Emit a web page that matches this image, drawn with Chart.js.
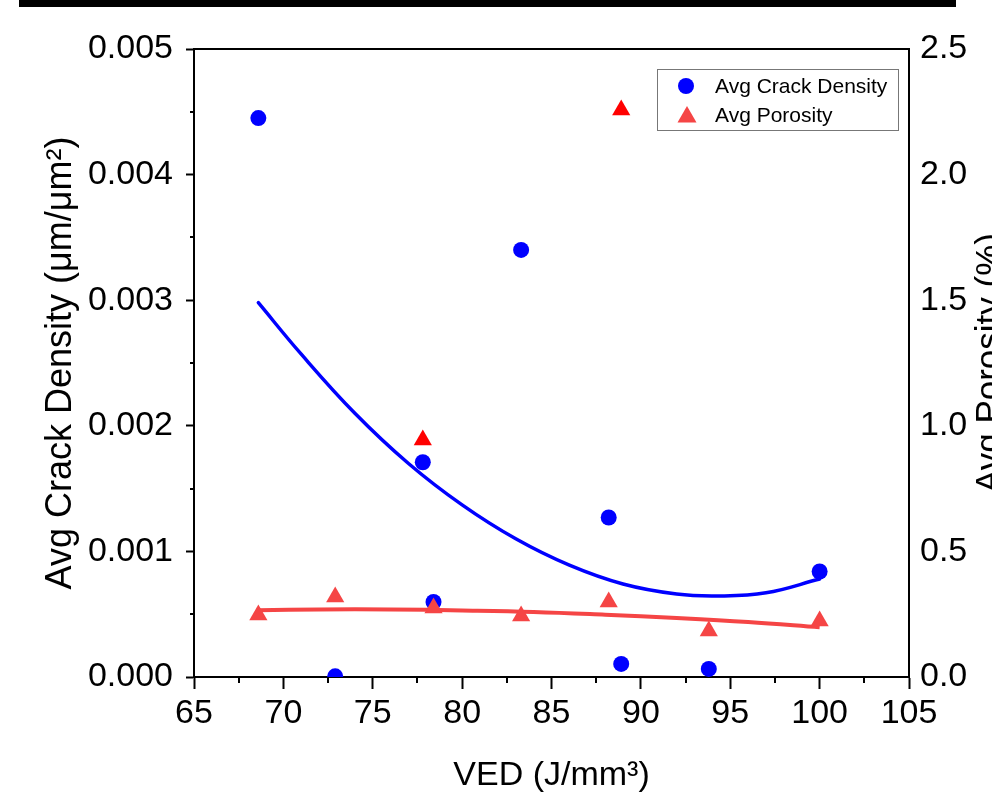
<!DOCTYPE html>
<html>
<head>
<meta charset="utf-8">
<title>Crack density and porosity vs VED</title>
<script src="https://cdn.jsdelivr.net/npm/chart.js@4.4.1/dist/chart.umd.min.js"></script>
<style>
  html, body { margin: 0; padding: 0; background: #fff; }
  #wrap { position: relative; width: 992px; height: 796px; }
</style>
</head>
<body>
<div id="wrap"><canvas id="vedChart" width="992" height="796"></canvas></div>
<script>
// measured samples (VED, J/mm3)
const vedValues = [68.6, 72.9, 77.8, 78.4, 83.3, 88.2, 88.9, 93.8, 100];
const crackDensity = [0.00445, 0.000005, 0.00171, 0.000597, 0.0034, 0.00127, 0.000104, 0.000064, 0.00084];
const porosity = [0.247, 0.318, 0.943, 0.275, 0.243, 0.299, 2.257, 0.183, 0.223];
// points excluded from the porosity fit are drawn in pure red
const porosityOutlier = [false, false, true, false, false, false, true, false, false];

// fitted curves
const crackFitX = [68.6, 71, 74, 77, 80, 83, 86, 89, 92, 94.3, 97, 100];
const crackFitY = [0.00298, 0.00257, 0.00210, 0.00170, 0.00137, 0.00110, 0.00089, 0.00074, 0.00066, 0.000645, 0.00067, 0.00078];
const porosityFitX = [68.6, 72, 76, 80, 84, 88, 92, 96, 100];
const porosityFitY = [0.266, 0.269, 0.269, 0.265, 0.259, 0.248, 0.235, 0.219, 0.198];

// axes
const xTicks = [65, 70, 75, 80, 85, 90, 95, 100, 105];
const crackTicks = [0, 0.001, 0.002, 0.003, 0.004, 0.005];
const porosityTicks = [0, 0.5, 1.0, 1.5, 2.0, 2.5];

const legendLabels = ['Avg Crack Density', 'Avg Porosity'];

const FONT = "'Liberation Sans', Arial, Helvetica, sans-serif";
const BLUE = '#0000ff';
const RED = '#f54545';
const PURE_RED = '#ff0000';

const toPoints = (xs, ys) => xs.map((x, i) => ({ x: x, y: ys[i] }));

// frame, minor ticks, top bar, legend, right title
const decorations = {
    id: 'decorations',
    beforeDraw(chart) {
        const ctx = chart.ctx;
        ctx.save();
        ctx.fillStyle = '#000';
        ctx.fillRect(19, 0, 937, 7);
        ctx.restore();
    },
    afterDraw(chart) {
        const ctx = chart.ctx;
        const area = chart.chartArea;
        const x = chart.scales.x;
        const y = chart.scales.y;
        ctx.save();
        ctx.strokeStyle = '#000';
        ctx.lineWidth = 2;

        // top frame line
        ctx.beginPath();
        ctx.moveTo(area.left - 1, area.top);
        ctx.lineTo(area.right + 1, area.top);
        ctx.stroke();

        // minor ticks
        ctx.beginPath();
        for (let i = 0; i < xTicks.length - 1; i++) {
            const px = Math.round(x.getPixelForValue((xTicks[i] + xTicks[i + 1]) / 2));
            ctx.moveTo(px, area.bottom);
            ctx.lineTo(px, area.bottom + 6);
        }
        for (let i = 0; i < crackTicks.length - 1; i++) {
            const py = Math.round(y.getPixelForValue((crackTicks[i] + crackTicks[i + 1]) / 2));
            ctx.moveTo(area.left, py);
            ctx.lineTo(area.left - 4, py);
        }
        ctx.stroke();

        // right axis title (reads bottom to top, cut by the page edge)
        ctx.fillStyle = '#000';
        ctx.font = '35px ' + FONT;
        ctx.textAlign = 'center';
        ctx.textBaseline = 'alphabetic';
        ctx.translate(1000, (area.top + area.bottom) / 2);
        ctx.rotate(-Math.PI / 2);
        ctx.fillText('Avg Porosity (%)', 0, 0);
        ctx.restore();

        // legend box
        ctx.save();
        ctx.strokeStyle = '#777';
        ctx.lineWidth = 1;
        ctx.strokeRect(657.5, 69.5, 241, 61);
        ctx.fillStyle = BLUE;
        ctx.beginPath();
        ctx.arc(686, 86, 8, 0, Math.PI * 2);
        ctx.fill();
        ctx.fillStyle = RED;
        ctx.beginPath();
        ctx.moveTo(687, 106);
        ctx.lineTo(696.5, 122.5);
        ctx.lineTo(677.5, 122.5);
        ctx.closePath();
        ctx.fill();
        ctx.fillStyle = '#000';
        ctx.font = '21px ' + FONT;
        ctx.textAlign = 'left';
        ctx.textBaseline = 'middle';
        ctx.fillText(legendLabels[0], 715, 87);
        ctx.fillText(legendLabels[1], 715, 116);
        ctx.restore();
    }
};

const ctx = document.getElementById('vedChart').getContext('2d');
new Chart(ctx, {
    type: 'scatter',
    data: {
        datasets: [
            {
                label: legendLabels[1],
                data: toPoints(vedValues, porosity),
                yAxisID: 'y1',
                pointStyle: 'triangle',
                pointRadius: 10.5,
                pointHoverRadius: 10.5,
                pointBorderWidth: 0,
                backgroundColor: porosityOutlier.map(o => o ? PURE_RED : RED),
                borderColor: 'rgba(0,0,0,0)',
                clip: 0,
                order: 1
            },
            {
                label: legendLabels[0],
                data: toPoints(vedValues, crackDensity),
                yAxisID: 'y',
                pointStyle: 'circle',
                pointRadius: 8,
                pointHoverRadius: 8,
                pointBorderWidth: 0,
                backgroundColor: BLUE,
                borderColor: 'rgba(0,0,0,0)',
                clip: 0,
                order: 2
            },
            {
                label: 'Crack fit',
                data: toPoints(crackFitX, crackFitY),
                yAxisID: 'y',
                showLine: true,
                pointRadius: 0,
                borderColor: BLUE,
                borderWidth: 3.5,
                borderCapStyle: 'round',
                tension: 0.4,
                clip: 0,
                order: 3
            },
            {
                label: 'Porosity fit',
                data: toPoints(porosityFitX, porosityFitY),
                yAxisID: 'y1',
                showLine: true,
                pointRadius: 0,
                borderColor: RED,
                borderWidth: 4,
                tension: 0.4,
                clip: 0,
                order: 4
            }
        ]
    },
    options: {
        responsive: false,
        animation: false,
        events: [],
        layout: { padding: { top: 49, left: 0, right: 0, bottom: 0 } },
        plugins: {
            legend: { display: false },
            tooltip: { enabled: false }
        },
        scales: {
            x: {
                type: 'linear',
                position: 'bottom',
                min: 65,
                max: 105,
                afterBuildTicks: (scale) => { scale.ticks = xTicks.map(v => ({ value: v })); },
                afterFit: (scale) => { scale.height = 119; },
                border: { display: true, color: '#000', width: 2 },
                grid: { display: true, drawOnChartArea: false, drawTicks: true, tickLength: 12, tickWidth: 2, tickColor: '#000' },
                ticks: {
                    color: '#000',
                    padding: 4,
                    maxRotation: 0,
                    font: { family: FONT, size: 34 },
                    callback: (v) => String(v)
                },
                title: {
                    display: true,
                    text: 'VED (J/mm³)',
                    color: '#000',
                    font: { family: FONT, size: 34, lineHeight: 1.2 },
                    padding: 0
                }
            },
            y: {
                type: 'linear',
                position: 'left',
                min: 0,
                max: 0.005,
                afterBuildTicks: (scale) => { scale.ticks = crackTicks.map(v => ({ value: v })); },
                afterFit: (scale) => { scale.width = 194; },
                border: { display: true, color: '#000', width: 2 },
                grid: { display: true, drawOnChartArea: false, drawTicks: true, tickLength: 8, tickWidth: 2, tickColor: '#000' },
                ticks: {
                    color: '#000',
                    padding: 13,
                    font: { family: FONT, size: 34 },
                    callback: (v) => v.toFixed(3)
                },
                title: {
                    display: true,
                    text: 'Avg Crack Density (μm/μm²)',
                    color: '#000',
                    font: { family: FONT, size: 36, lineHeight: 1.2 },
                    padding: { top: 39, bottom: 0 }
                }
            },
            y1: {
                type: 'linear',
                position: 'right',
                min: 0,
                max: 2.5,
                afterBuildTicks: (scale) => { scale.ticks = porosityTicks.map(v => ({ value: v })); },
                afterFit: (scale) => { scale.width = 83; },
                border: { display: true, color: '#000', width: 2 },
                grid: { display: false, drawOnChartArea: false, drawTicks: false },
                ticks: {
                    color: '#000',
                    padding: 11,
                    font: { family: FONT, size: 34 },
                    callback: (v) => v.toFixed(1)
                },
                title: { display: false }
            }
        }
    },
    plugins: [decorations]
});
</script>
</body>
</html>
